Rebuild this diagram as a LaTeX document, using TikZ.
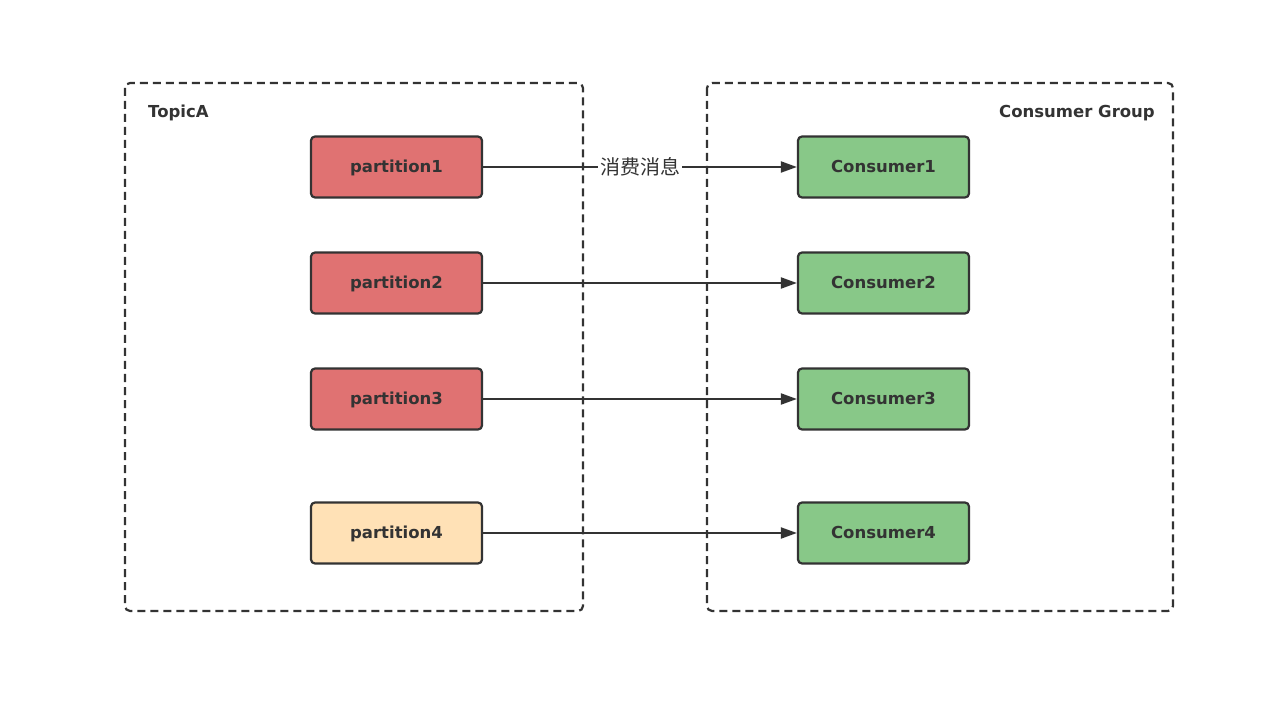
\documentclass[tikz,border=0pt]{standalone}
\usepackage{fontspec}
\setmainfont{DejaVu Sans}
\newfontfamily\cjk{Noto Sans CJK SC}
\usetikzlibrary{arrows.meta}
\definecolor{ink}{HTML}{333333}
\definecolor{redf}{HTML}{E07272}
\definecolor{orangef}{HTML}{FFE1B6}
\definecolor{greenf}{HTML}{88C888}
\tikzset{
  grp/.style={draw=ink, line width=2.2pt, dash pattern=on 8pt off 5pt, rounded corners=5pt},
  box/.style={draw=ink, line width=2.2pt, rounded corners=4pt, minimum width=171pt, minimum height=61pt, inner sep=0pt, text height=11pt, text depth=0pt, font=\fontsize{16.5}{19}\selectfont\bfseries, text=ink},
  lbl/.style={font=\fontsize{16.5}{19}\selectfont\bfseries, text=ink, inner sep=0pt},
  conn/.style={draw=ink, line width=2pt, -{Triangle[length=16pt,width=11pt]}},
}
\begin{document}
\begin{tikzpicture}[x=1pt,y=-1pt]
\useasboundingbox (0,0) rectangle (1280,703);
\draw[grp] (125,83) rectangle (583,611);
\draw[grp] (707,83) rectangle (1173,611);
\node[lbl, anchor=west] (topic) at (148,113) {TopicA};
\node[lbl, anchor=east] (cg) at (1155,113) {Consumer Group};
\node[box, fill=redf] (p1) at (396.5,167) {partition1};
\node[box, fill=redf] (p2) at (396.5,283) {partition2};
\node[box, fill=redf] (p3) at (396.5,399) {partition3};
\node[box, fill=orangef] (p4) at (396.5,533) {partition4};
\node[box, fill=greenf] (c1) at (883.5,167) {Consumer1};
\node[box, fill=greenf] (c2) at (883.5,283) {Consumer2};
\node[box, fill=greenf] (c3) at (883.5,399) {Consumer3};
\node[box, fill=greenf] (c4) at (883.5,533) {Consumer4};
\draw[conn] (p1) -- node[fill=white, inner sep=2pt, font=\cjk\fontsize{20}{22}\selectfont, text=ink] (msg) {消费消息} (c1);
\draw[conn] (p2) -- (c2);
\draw[conn] (p3) -- (c3);
\draw[conn] (p4) -- (c4);
\end{tikzpicture}
\end{document}
